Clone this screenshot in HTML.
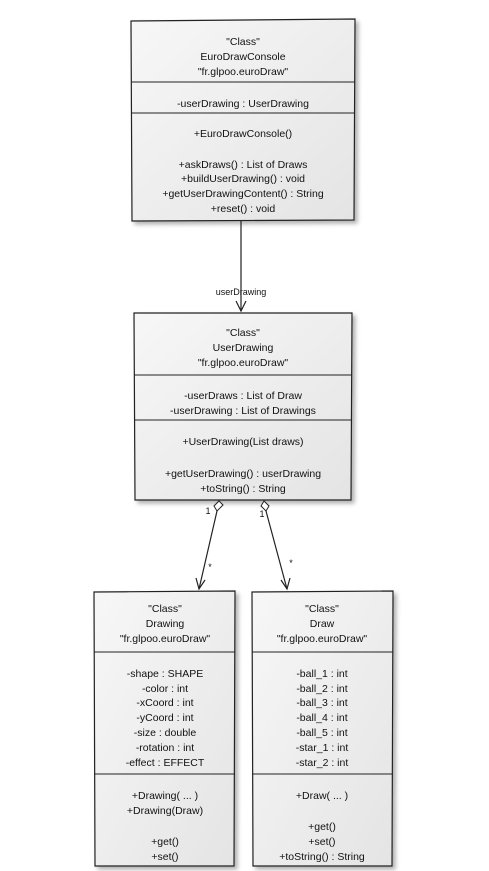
<!DOCTYPE html>
<html><head><meta charset="utf-8"><style>
html,body{margin:0;padding:0;background:#fff;}
svg{display:block;}
text{font-family:"Liberation Sans",sans-serif;font-size:10.5px;fill:#111;text-anchor:middle;}
</style></head><body>
<svg width="489" height="871" viewBox="0 0 489 871" xmlns="http://www.w3.org/2000/svg">
<defs>
<linearGradient id="g" x1="0" y1="0" x2="1" y2="1"><stop offset="0" stop-color="#f7f7f7"/><stop offset="1" stop-color="#e4e4e4"/></linearGradient>
<filter id="s" x="-10%" y="-10%" width="130%" height="130%"><feDropShadow dx="3" dy="3" stdDeviation="2" flood-color="#000" flood-opacity="0.3"/></filter>
</defs>
<g stroke="#222" stroke-width="1.2" fill="url(#g)" filter="url(#s)">
<path d="M131 21 L355 19 L354 220 L132 221 Z"/>
<path d="M134 313 L352 313 L351 500 L135 500 Z"/>
<path d="M94 592 L235 591 L234 866 L95 866 Z"/>
<path d="M252 592 L393 591 L392 866 L253 866 Z"/>
</g>
<g stroke="#222" stroke-width="1">
<line x1="131" y1="82" x2="355" y2="82"/><line x1="131" y1="113" x2="355" y2="113"/>
<line x1="134" y1="375" x2="352" y2="375"/><line x1="134" y1="420" x2="352" y2="420"/>
<line x1="94" y1="652" x2="235" y2="652"/><line x1="94" y1="774" x2="235" y2="774"/>
<line x1="252" y1="652" x2="393" y2="652"/><line x1="252" y1="774" x2="393" y2="774"/>
</g>
<g stroke="#222" stroke-width="1.2" fill="none">
<line x1="241" y1="221" x2="241" y2="311"/>
<path d="M236 301 L241 311 L246 301"/>
<line x1="217" y1="511" x2="199" y2="589"/>
<path d="M196 578 L199 589 L205 580"/>
<line x1="266" y1="511" x2="287" y2="589"/>
<path d="M281 580 L287 589 L290 578"/>
</g>
<g stroke="#222" stroke-width="1" fill="#fff">
<path d="M219 501 L223 505 L217 511 L214 506 Z"/>
<path d="M264 501 L269 506 L266 511 L261 506 Z"/>
</g>
<text x="241" y="295" style="font-size:9px">userDrawing</text>
<text x="208" y="514" style="font-size:9px">1</text>
<text x="262" y="517" style="font-size:9px">1</text>
<text x="210" y="570" style="font-size:9px">*</text>
<text x="291" y="566" style="font-size:9px">*</text>

<text x="243" y="45">"Class"</text>
<text x="243" y="60">EuroDrawConsole</text>
<text x="243" y="75">"fr.glpoo.euroDraw"</text>
<text x="243" y="107">-userDrawing : UserDrawing</text>
<text x="243" y="137">+EuroDrawConsole()</text>
<text x="243" y="168">+askDraws() : List of Draws</text>
<text x="243" y="182">+buildUserDrawing() : void</text>
<text x="243" y="197">+getUserDrawingContent() : String</text>
<text x="243" y="212">+reset() : void</text>

<text x="243" y="336">"Class"</text>
<text x="243" y="351">UserDrawing</text>
<text x="243" y="366">"fr.glpoo.euroDraw"</text>
<text x="243" y="399">-userDraws : List of Draw</text>
<text x="243" y="414">-userDrawing : List of Drawings</text>
<text x="243" y="445">+UserDrawing(List draws)</text>
<text x="243" y="477">+getUserDrawing() : userDrawing</text>
<text x="243" y="492">+toString() : String</text>

<text x="165" y="612">"Class"</text>
<text x="165" y="627">Drawing</text>
<text x="165" y="642">"fr.glpoo.euroDraw"</text>
<text x="165" y="677">-shape : SHAPE</text>
<text x="165" y="692">-color : int</text>
<text x="165" y="706">-xCoord : int</text>
<text x="165" y="721">-yCoord : int</text>
<text x="165" y="736">-size : double</text>
<text x="165" y="751">-rotation : int</text>
<text x="165" y="766">-effect : EFFECT</text>
<text x="165" y="799">+Drawing( ... )</text>
<text x="165" y="814">+Drawing(Draw)</text>
<text x="165" y="845">+get()</text>
<text x="165" y="860">+set()</text>

<text x="322" y="612">"Class"</text>
<text x="322" y="627">Draw</text>
<text x="322" y="642">"fr.glpoo.euroDraw"</text>
<text x="322" y="677">-ball_1 : int</text>
<text x="322" y="692">-ball_2 : int</text>
<text x="322" y="706">-ball_3 : int</text>
<text x="322" y="721">-ball_4 : int</text>
<text x="322" y="736">-ball_5 : int</text>
<text x="322" y="751">-star_1 : int</text>
<text x="322" y="766">-star_2 : int</text>
<text x="322" y="799">+Draw( ... )</text>
<text x="322" y="830">+get()</text>
<text x="322" y="845">+set()</text>
<text x="322" y="860">+toString() : String</text>
</svg>
</body></html>
